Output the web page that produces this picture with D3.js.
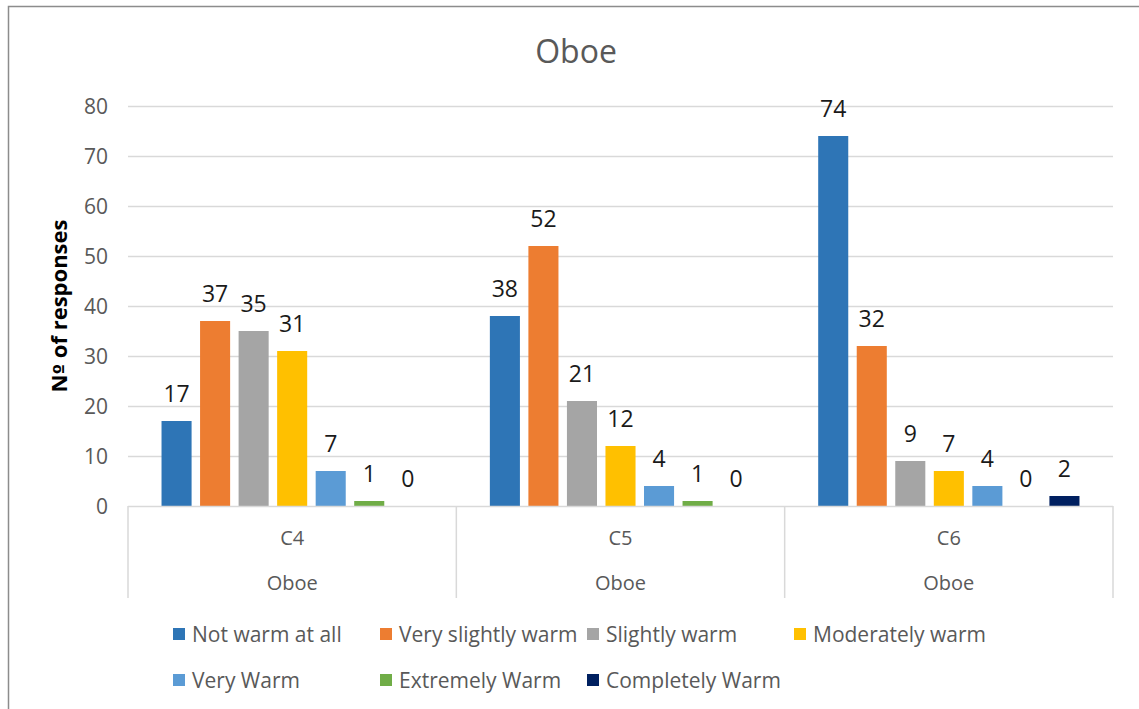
<!DOCTYPE html>
<html>
<head>
<meta charset="utf-8">
<script src="https://cdn.jsdelivr.net/npm/d3@7"></script>
<style>
  body { margin: 0; background: #fff; }
  svg { font-family: "Open Sans", sans-serif; }
</style>
</head>
<body>
<div id="chart"></div>
<script>
// data
var categories = ["C4", "C5", "C6"];
var groupLabel = "Oboe";
var seriesNames = ["Not warm at all", "Very slightly warm", "Slightly warm", "Moderately warm",
    "Very Warm", "Extremely Warm", "Completely Warm"];
var seriesColors = ["#2E75B6", "#ED7D31", "#A5A5A5", "#FFC000", "#5B9BD5", "#70AD47", "#002060"];
var valuesC4 = [17, 37, 35, 31, 7, 1, 0];
var valuesC5 = [38, 52, 21, 12, 4, 1, 0];
var valuesC6 = [74, 32, 9, 7, 4, 0, 2];
var yTicks = [0, 10, 20, 30, 40, 50, 60, 70, 80];

var allValues = [valuesC4, valuesC5, valuesC6];
var data = categories.map(function (c, i) {
    return { cat: c, values: allValues[i] };
});

var W = 1139, H = 709;
var plot = { left: 128, right: 1113, top: 106, bottom: 506 };

var svg = d3.select("#chart").append("svg")
    .attr("width", W)
    .attr("height", H);

// outer chart frame (only top and left edges are visible)
svg.append("path")
    .attr("d", "M8.5," + H + "V6.5H" + W)
    .attr("fill", "none")
    .attr("stroke", "#8c8c8c")
    .attr("stroke-width", 1.5);

var x0 = d3.scaleBand()
    .domain(categories)
    .range([plot.left, plot.right]);

var x1 = d3.scaleBand()
    .domain(seriesNames)
    .range([0, x0.bandwidth()])
    .paddingInner(0.22)
    .paddingOuter(0.87);

var y = d3.scaleLinear()
    .domain([0, 80])
    .range([plot.bottom, plot.top]);

var color = d3.scaleOrdinal()
    .domain(seriesNames)
    .range(seriesColors);

// gridlines
svg.append("g")
    .selectAll("line")
    .data(yTicks.slice(1))
    .enter().append("line")
    .attr("x1", plot.left)
    .attr("x2", plot.right)
    .attr("y1", function (d) { return Math.round(y(d)) + 0.5; })
    .attr("y2", function (d) { return Math.round(y(d)) + 0.5; })
    .attr("stroke", "#d9d9d9")
    .attr("stroke-width", 1.5);

// y tick labels
svg.append("g")
    .selectAll("text")
    .data(yTicks)
    .enter().append("text")
    .attr("x", 108)
    .attr("y", function (d) { return y(d); })
    .attr("dy", "0.36em")
    .attr("text-anchor", "end")
    .attr("fill", "#595959")
    .style("font-size", "21px")
    .text(function (d) { return d; });

// y axis title
var yTitle = svg.append("text")
    .attr("transform", "translate(67," + 306 + ") rotate(-90)")
    .attr("text-anchor", "middle")
    .attr("fill", "#000")
    .style("font-size", "22px")
    .style("font-weight", "bold");
yTitle.append("tspan").text("N");
yTitle.append("tspan").style("font-family", "DejaVu Sans").style("font-size", "19px").text("º");
yTitle.append("tspan").text(" of responses");

// bars
var groups = svg.append("g")
    .selectAll("g")
    .data(data)
    .enter().append("g")
    .attr("transform", function (d) { return "translate(" + x0(d.cat) + ",0)"; });

groups.selectAll("rect")
    .data(function (d) { return d.values.map(function (v, i) { return { key: seriesNames[i], value: v }; }); })
    .enter().append("rect")
    .attr("x", function (d) { return x1(d.key); })
    .attr("width", x1.bandwidth())
    .attr("y", function (d) { return y(d.value); })
    .attr("height", function (d) { return y(0) - y(d.value); })
    .attr("fill", function (d) { return color(d.key); });

groups.selectAll("text")
    .data(function (d) { return d.values.map(function (v, i) { return { key: seriesNames[i], value: v }; }); })
    .enter().append("text")
    .attr("x", function (d) { return x1(d.key) + x1.bandwidth() / 2; })
    .attr("y", function (d) { return y(d.value) - 19; })
    .attr("text-anchor", "middle")
    .attr("fill", "#1a1a1a")
    .style("font-size", "23px")
    .text(function (d) { return d.value; });

// category axis: baseline + separators
svg.append("line")
    .attr("x1", plot.left)
    .attr("x2", plot.right)
    .attr("y1", plot.bottom + 0.5)
    .attr("y2", plot.bottom + 0.5)
    .attr("stroke", "#d9d9d9")
    .attr("stroke-width", 1.5);

var seps = categories.map(function (c) { return x0(c); }).concat([plot.right]);
svg.append("g")
    .selectAll("line")
    .data(seps)
    .enter().append("line")
    .attr("x1", function (d) { return d; })
    .attr("x2", function (d) { return d; })
    .attr("y1", plot.bottom)
    .attr("y2", 598)
    .attr("stroke", "#d9d9d9")
    .attr("stroke-width", 1.5);

svg.append("g")
    .selectAll("text")
    .data(categories)
    .enter().append("text")
    .attr("x", function (d) { return x0(d) + x0.bandwidth() / 2; })
    .attr("y", 545)
    .attr("text-anchor", "middle")
    .attr("fill", "#595959")
    .style("font-size", "20px")
    .text(function (d) { return d; });

svg.append("g")
    .selectAll("text")
    .data(categories)
    .enter().append("text")
    .attr("x", function (d) { return x0(d) + x0.bandwidth() / 2; })
    .attr("y", 590)
    .attr("text-anchor", "middle")
    .attr("fill", "#595959")
    .style("font-size", "20px")
    .text(groupLabel);

// title
svg.append("text")
    .attr("x", 576)
    .attr("y", 63)
    .attr("text-anchor", "middle")
    .attr("fill", "#595959")
    .style("font-size", "32px")
    .text("Oboe");

// legend: four equal columns, two rows
var legendLeft = 173, legendCol = 207;
var legend = svg.append("g")
    .selectAll("g")
    .data(seriesNames)
    .enter().append("g")
    .attr("transform", function (d, i) {
        return "translate(" + (legendLeft + (i % 4) * legendCol) + "," + (i < 4 ? 634 : 680) + ")";
    });

legend.append("rect")
    .attr("x", 0)
    .attr("y", -6)
    .attr("width", 12)
    .attr("height", 12)
    .attr("fill", function (d) { return color(d); });

legend.append("text")
    .attr("x", 19)
    .attr("y", 0)
    .attr("dy", "0.36em")
    .attr("fill", "#595959")
    .style("font-size", "21px")
    .text(function (d) { return d; });
</script>
</body>
</html>
